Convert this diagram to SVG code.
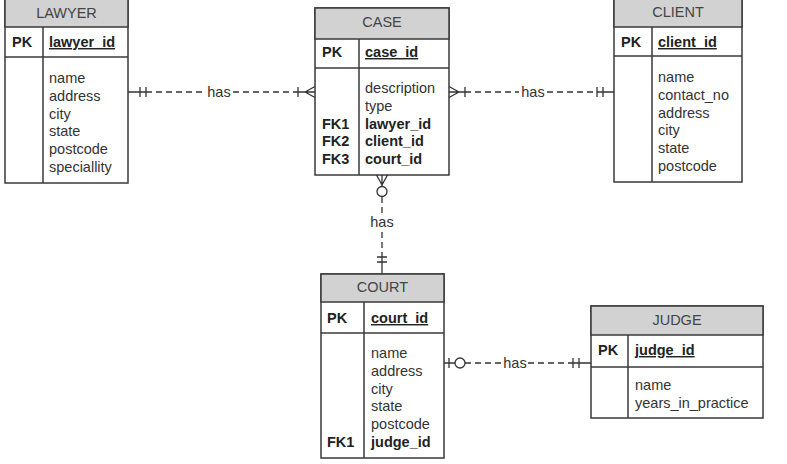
<svg xmlns="http://www.w3.org/2000/svg" width="787" height="464" viewBox="0 0 787 464">
<style>
.box{fill:#fff;stroke:#3a3a3a;stroke-width:1.5}
.hdr{fill:#d2d2d2;stroke:#3a3a3a;stroke-width:1.5}
.div{stroke:#3a3a3a;stroke-width:1.5;fill:none}
text{font-family:"Liberation Sans",Arial,sans-serif;font-size:14.5px;fill:#333}
.ht{fill:#444;text-anchor:middle}
.k{font-weight:bold;fill:#222}
.pk{font-weight:bold;fill:#222;text-decoration:underline}
.ln{stroke:#333;stroke-width:1.3;fill:none}
.dash{stroke:#333;stroke-width:1.3;fill:none;stroke-dasharray:6,4}
.lbl{fill:#333;text-anchor:middle}
</style>
<rect width="787" height="464" fill="#fff"/>

<g id="lawyer">
<rect class="box" x="5" y="-3" width="123" height="186"/>
<rect class="hdr" x="5" y="-3" width="123" height="30"/>
<line class="div" x1="5" y1="57" x2="128" y2="57"/>
<line class="div" x1="43" y1="27" x2="43" y2="183"/>
<text class="ht" x="66.5" y="18">LAWYER</text>
<text class="k" x="12" y="47">PK</text>
<text class="pk" x="49" y="47">lawyer_id</text>
<text x="49" y="83">name</text>
<text x="49" y="100.8">address</text>
<text x="49" y="118.6">city</text>
<text x="49" y="136.4">state</text>
<text x="49" y="154.2">postcode</text>
<text x="49" y="172">speciallity</text>
</g>

<g id="case">
<rect class="box" x="315" y="8" width="134" height="167"/>
<rect class="hdr" x="315" y="8" width="134" height="31"/>
<line class="div" x1="315" y1="68" x2="449" y2="68"/>
<line class="div" x1="359" y1="39" x2="359" y2="175"/>
<text class="ht" x="382" y="27">CASE</text>
<text class="k" x="322" y="57">PK</text>
<text class="pk" x="365" y="57">case_id</text>
<text x="365" y="93">description</text>
<text x="365" y="110.8">type</text>
<text class="k" x="322" y="128.6">FK1</text>
<text class="k" x="365" y="128.6">lawyer_id</text>
<text class="k" x="322" y="146.4">FK2</text>
<text class="k" x="365" y="146.4">client_id</text>
<text class="k" x="322" y="164.2">FK3</text>
<text class="k" x="365" y="164.2">court_id</text>
</g>

<g id="client">
<rect class="box" x="614" y="-3" width="128" height="185"/>
<rect class="hdr" x="614" y="-3" width="128" height="30"/>
<line class="div" x1="614" y1="56" x2="742" y2="56"/>
<line class="div" x1="652" y1="27" x2="652" y2="182"/>
<text class="ht" x="678" y="17">CLIENT</text>
<text class="k" x="621" y="47">PK</text>
<text class="pk" x="658" y="47">client_id</text>
<text x="658" y="82">name</text>
<text x="658" y="99.8">contact_no</text>
<text x="658" y="117.6">address</text>
<text x="658" y="135.4">city</text>
<text x="658" y="153.2">state</text>
<text x="658" y="171">postcode</text>
</g>

<g id="court">
<rect class="box" x="321" y="274" width="123" height="184"/>
<rect class="hdr" x="321" y="274" width="123" height="28"/>
<line class="div" x1="321" y1="333" x2="444" y2="333"/>
<line class="div" x1="364" y1="302" x2="364" y2="458"/>
<text class="ht" x="382.5" y="292">COURT</text>
<text class="k" x="327" y="323">PK</text>
<text class="pk" x="371" y="323">court_id</text>
<text x="371" y="358">name</text>
<text x="371" y="375.8">address</text>
<text x="371" y="393.6">city</text>
<text x="371" y="411.4">state</text>
<text x="371" y="429.2">postcode</text>
<text class="k" x="327" y="447">FK1</text>
<text class="k" x="371" y="447">judge_id</text>
</g>

<g id="judge">
<rect class="box" x="591" y="306" width="172" height="112"/>
<rect class="hdr" x="591" y="306" width="172" height="29"/>
<line class="div" x1="591" y1="367" x2="763" y2="367"/>
<line class="div" x1="628" y1="335" x2="628" y2="418"/>
<text class="ht" x="677" y="325">JUDGE</text>
<text class="k" x="598" y="355">PK</text>
<text class="pk" x="635" y="355">judge_id</text>
<text x="635" y="390">name</text>
<text x="635" y="408">years_in_practice</text>
</g>

<g id="connectors">
<!-- LAWYER - CASE -->
<path class="ln" d="M128 92H146M140 87V97M146 87V97"/>
<path class="dash" d="M146 92H206"/>
<text class="lbl" x="219" y="97">has</text>
<path class="dash" d="M233 92H298"/>
<path class="ln" d="M298 92H315M298 87V97M305 92L315 86.5M305 92L315 97.5"/>
<!-- CASE - CLIENT -->
<path class="ln" d="M449 92H465M465 87V97M459 92L449 86.5M459 92L449 97.5"/>
<path class="dash" d="M465 92H519"/>
<text class="lbl" x="533" y="97">has</text>
<path class="dash" d="M547 92H597"/>
<path class="ln" d="M597 92H614M597 87V97M603 87V97"/>
<!-- CASE - COURT -->
<path class="ln" d="M382 175V186.5M382 185L376.5 175M382 185L387.5 175"/>
<circle class="ln" cx="382" cy="191.5" r="5" fill="#fff"/>
<path class="dash" d="M382 197V214"/>
<text class="lbl" x="382" y="227">has</text>
<path class="dash" d="M382 232V256"/>
<path class="ln" d="M382 256V274M377 257H387M377 262H387"/>
<!-- COURT - JUDGE -->
<path class="ln" d="M444 363H455M449 358V368"/>
<circle class="ln" cx="460" cy="363" r="5" fill="#fff"/>
<path class="dash" d="M465 363H502"/>
<text class="lbl" x="515" y="368">has</text>
<path class="dash" d="M528 363H573"/>
<path class="ln" d="M573 363H591M573 358V368M579 358V368"/>
</g>
</svg>
